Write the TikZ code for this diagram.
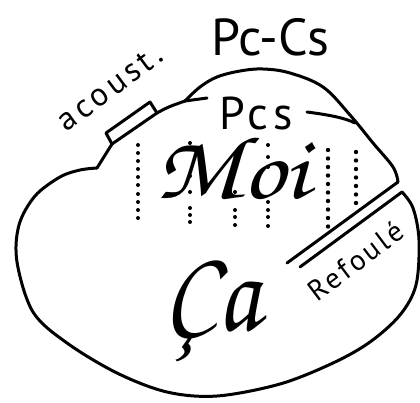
\documentclass[tikz,border=0pt]{standalone}
\usepackage{fontspec}
\setmainfont{PT Sans}
\newfontfamily\scriptf{texgyrechorus-mediumitalic.otf}
\begin{document}
\begin{tikzpicture}[x=1pt,y=-1pt,
  outl/.style={line width=3pt, line join=round, line cap=round},
  lbl/.style={inner sep=0pt, text=black},
  dotc/.style={fill=black}]
\useasboundingbox (0,0) rectangle (420,402);
% main outline
\draw[outl] plot[smooth, tension=0.55] coordinates {(402,192) (413,208) (419,240) (416,285) (400,315) (370,342) (333,363) (280,384) (217,396) (167,392) (117,373) (67,343) (33,312) (17,262) (19,225) (35,196) (60,177) (80,170) (97,168)};
\draw[outl] (97,168) -- (112,144) -- (157,113) .. controls (168,107) .. (185,101);
% acoustic box
\draw[outl] (112,144) -- (106,133) -- (150,102) -- (157,113);
% outer arc Pc-Cs
\draw[outl] plot[smooth, tension=0.6] coordinates {(185,101) (200,87) (217,77) (240,71) (263,69) (290,73) (323,87) (350,115) (373,143) (393,167) (398,182)};
% Pcs line
\draw[outl] (185,101) -- (207,98);
\draw[outl] (307,112) .. controls (330,115) and (345,118) .. (355,123);
% Refoule double line
\draw[outl] (398,182) -- (287,263);
\draw[outl] (300,267) -- (402,192);
% dotted columns
\foreach \y in {145,153,161,169,177,185,194,202,210,218} \fill[dotc] (138,\y) circle (2pt);
\foreach \y in {143,176,192,208,215,222} \fill[dotc] (190,\y) circle (2pt);
\foreach \y in {160,192,210,217,225} \fill[dotc] (235,\y) circle (2pt);
\foreach \y in {145,157,167,202,210,217,226} \fill[dotc] (268,\y) circle (2pt);
\foreach \i in {0,...,9} \fill[dotc] (328,150+8.5*\i) circle (2.2pt);
\foreach \i in {0,...,6} \fill[dotc] (356,152+8.5*\i) circle (2.2pt);
% labels
\node[lbl, anchor=base, font=\fontsize{52}{52}\selectfont] (pccs) at (270,55) {Pc-Cs};
\node[lbl, anchor=base, font=\fontsize{46}{46}\selectfont\addfontfeatures{LetterSpace=10}] (pcs) at (256,129) {Pcs};
\node[lbl, rotate=36.5, font=\fontsize{33}{33}\selectfont\addfontfeatures{LetterSpace=12}] (acoust) at (110,88) {acoust.};
\node[lbl, rotate=37, font=\fontsize{29}{29}\selectfont\addfontfeatures{LetterSpace=10}] (refoule) at (356,261) {Refoulé};
\node[lbl, anchor=base, font=\fontsize{90}{90}\scriptf] (moi) at (232,198) {\scalebox{1.15}[1]{Moi}};
\node[lbl, anchor=base, font=\fontsize{118}{118}\scriptf] (ca) at (212,330) {\scalebox{0.85}[1]{Ça}};
\end{tikzpicture}
\end{document}
